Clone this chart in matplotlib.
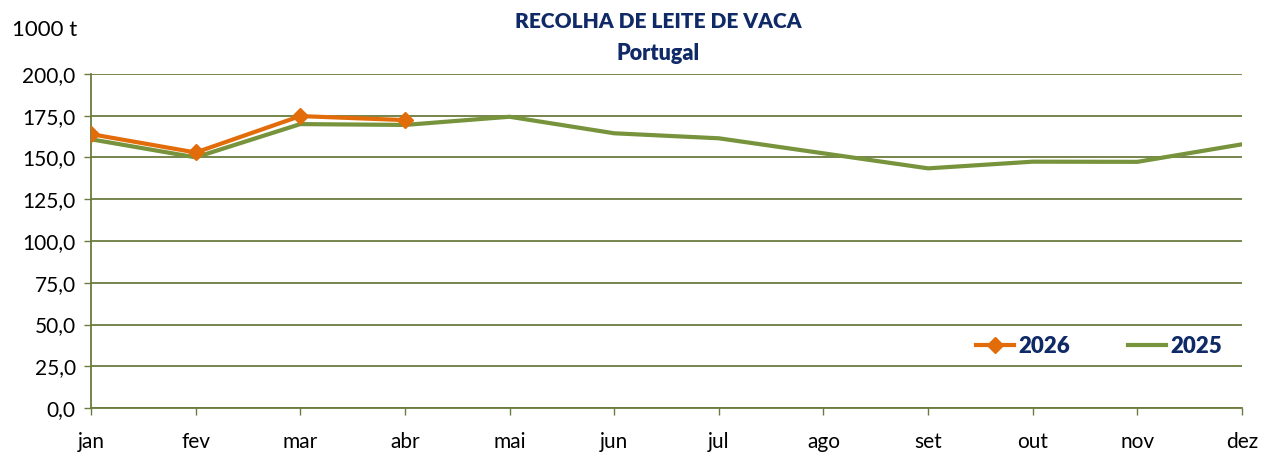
import matplotlib.pyplot as plt
from matplotlib.ticker import FuncFormatter

# --- dados ---
meses = ["jan", "fev", "mar", "abr", "mai", "jun", "jul", "ago", "set", "out", "nov", "dez"]
v2026 = [164.0, 153.0, 174.8, 172.4]
v2025 = [160.9, 150.1, 170.0, 169.5, 174.4, 164.5, 161.5, 152.5, 143.5, 147.5, 147.4, 157.9]

plt.rcParams["font.family"] = ["Lato", "DejaVu Sans"]

grid_col = "#6B7B3E"
navy = "#0F2A66"

fig = plt.figure(figsize=(12.75, 4.54), dpi=100)
ax = fig.add_axes([91 / 1275, 1 - 408 / 454, (1242 - 91) / 1275, (408 - 74) / 454])

x25 = list(range(len(v2025)))
x26 = list(range(len(v2026)))
ax.plot(x25, v2025, color="#77933C", lw=3, label="2025", zorder=3)
ax.plot(x26, v2026, color="#E36C0A", lw=3, marker="D", markersize=8, label="2026", zorder=4)

ax.set_xlim(0, 11)
ax.set_ylim(0, 200)
ax.set_yticks([i * 25 for i in range(9)])
ax.yaxis.set_major_formatter(FuncFormatter(lambda v, p: f"{v:.1f}".replace(".", ",")))
ax.set_xticks(x25)
ax.set_xticklabels(meses)

ax.grid(axis="y", color=grid_col, lw=1.3)
ax.set_axisbelow(True)
for s in ["top", "right"]:
    ax.spines[s].set_visible(False)
ax.spines["left"].set_color(grid_col)
ax.spines["bottom"].set_color(grid_col)
ax.spines["left"].set_linewidth(1.3)
ax.spines["bottom"].set_linewidth(1.3)
ax.tick_params(axis="both", labelsize=15, colors=grid_col, labelcolor="black", length=5, width=1)
ax.tick_params(axis="x", pad=12)
ax.tick_params(axis="y", pad=6)

fig.text(12 / 1275, 1 - 30 / 454, "1000 t", fontsize=16, va="center", ha="left")
fig.text(658 / 1275, 1 - 21 / 454, "RECOLHA DE LEITE DE VACA", fontsize=15, fontweight="heavy",
         color=navy, ha="center", va="center")
fig.text(658 / 1275, 1 - 53 / 454, "Portugal", fontsize=15.5, fontweight="heavy",
         color=navy, ha="center", va="center")

h, l = ax.get_legend_handles_labels()
leg = ax.legend(h[::-1], l[::-1], loc="center right", bbox_to_anchor=(1.0, 0.185), ncol=2,
                frameon=False, fontsize=16, handlelength=1.7, columnspacing=2.6, handletextpad=0.2)
for t in leg.get_texts():
    t.set_color(navy)
    t.set_fontweight("heavy")

fig.savefig("out.png", dpi=100)
